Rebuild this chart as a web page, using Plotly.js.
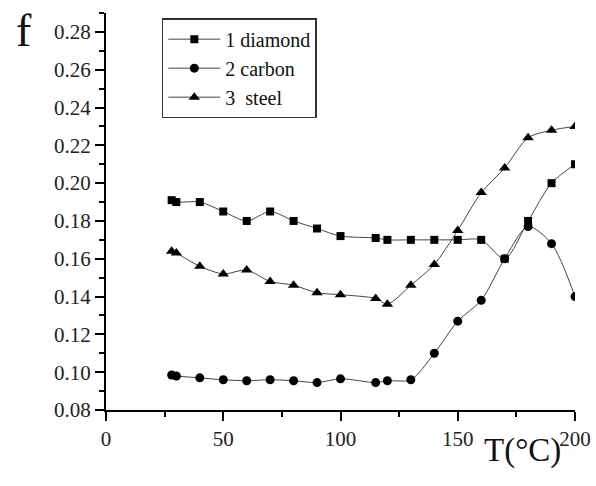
<!DOCTYPE html>
<html>
<head>
<meta charset="utf-8">
<script src="https://cdn.plot.ly/plotly-3.0.1.min.js"></script>
<style>html,body{margin:0;padding:0;background:#fff;}#chart{width:596px;height:486px;}</style>
</head>
<body>
<div id="chart"></div>
<script>
const diamondT = [28, 30, 40, 50, 60, 70, 80, 90, 100, 115, 120, 130, 140, 150, 160, 170, 180, 190, 200];
const diamondF = [0.191, 0.190, 0.190, 0.185, 0.180, 0.185, 0.180, 0.176, 0.172, 0.171, 0.170, 0.170, 0.170, 0.170, 0.170, 0.160, 0.180, 0.200, 0.210];

const carbonT = [28, 30, 40, 50, 60, 70, 80, 90, 100, 115, 120, 130, 140, 150, 160, 170, 180, 190, 200];
const carbonF = [0.0985, 0.098, 0.097, 0.096, 0.0955, 0.096, 0.0955, 0.0945, 0.0965, 0.0945, 0.0955, 0.096, 0.110, 0.127, 0.138, 0.160, 0.177, 0.168, 0.140];

const steelT = [28, 30, 40, 50, 60, 70, 80, 90, 100, 115, 120, 130, 140, 150, 160, 170, 180, 190, 200];
const steelF = [0.164, 0.163, 0.156, 0.152, 0.154, 0.148, 0.146, 0.142, 0.141, 0.139, 0.136, 0.146, 0.157, 0.175, 0.195, 0.208, 0.224, 0.228, 0.230];

const seriesNames = ['1 diamond', '2 carbon', '3  steel'];
const xTicks = [0, 50, 100, 150, 200];
const yTicks = [0.08, 0.10, 0.12, 0.14, 0.16, 0.18, 0.20, 0.22, 0.24, 0.26, 0.28];

const serif = 'Liberation Serif';
const lineStyle = {color: '#444', width: 1, shape: 'spline', smoothing: 0.8};

const traces = [
  {x: diamondT, y: diamondF, name: seriesNames[0], mode: 'lines+markers', line: lineStyle,
   marker: {symbol: 'square', size: 8, color: '#000'}},
  {x: carbonT, y: carbonF, name: seriesNames[1], mode: 'lines+markers', line: lineStyle,
   marker: {symbol: 'circle', size: 9, color: '#000'}},
  {x: steelT, y: steelF, name: seriesNames[2], mode: 'lines+markers', line: lineStyle,
   marker: {symbol: 'triangle-up', size: 10, color: '#000'}}
];

const axisCommon = {
  showgrid: false, zeroline: false, showline: true, linecolor: '#000', linewidth: 2,
  ticks: 'outside', ticklen: 9, tickwidth: 2, tickcolor: '#000',
  tickfont: {family: serif, size: 21, color: '#222'},
  mirror: false
};

const layout = {
  width: 596, height: 486,
  font: {family: serif},
  margin: {l: 106, r: 21, t: 13, b: 76},
  paper_bgcolor: '#fff', plot_bgcolor: '#fff',
  showlegend: true,
  legend: {
    x: 0.119, y: 0.987, xanchor: 'left', yanchor: 'top',
    bgcolor: '#fff', bordercolor: '#333', borderwidth: 1.5,
    font: {family: serif, size: 20, color: '#111'},
    itemwidth: 52, tracegroupgap: 0
  },
  xaxis: Object.assign({}, axisCommon, {
    range: [0, 200], tickvals: xTicks, ticktext: xTicks.map(String),
    minor: {dtick: 25, ticklen: 5, tickwidth: 2, tickcolor: '#000', ticks: 'outside'}
  }),
  yaxis: Object.assign({}, axisCommon, {
    range: [0.08, 0.29], tickvals: yTicks, ticktext: yTicks.map(v => v.toFixed(2)),
    minor: {tickvals: yTicks.map(v => v + 0.01), ticklen: 5, tickwidth: 2, tickcolor: '#000', ticks: 'outside'}
  }),
  annotations: [
    {text: 'f', xref: 'paper', yref: 'paper', x: -0.175, y: 0.957, xanchor: 'center', yanchor: 'middle',
     showarrow: false, font: {family: serif, size: 46, color: '#111'}},
    {text: 'T(°C)', xref: 'paper', yref: 'paper', x: 0.887, y: -0.103, xanchor: 'center', yanchor: 'middle',
     showarrow: false, font: {family: serif, size: 33, color: '#111'}}
  ]
};

Plotly.newPlot('chart', traces, layout, {staticPlot: true, displayModeBar: false});
</script>
</body>
</html>
